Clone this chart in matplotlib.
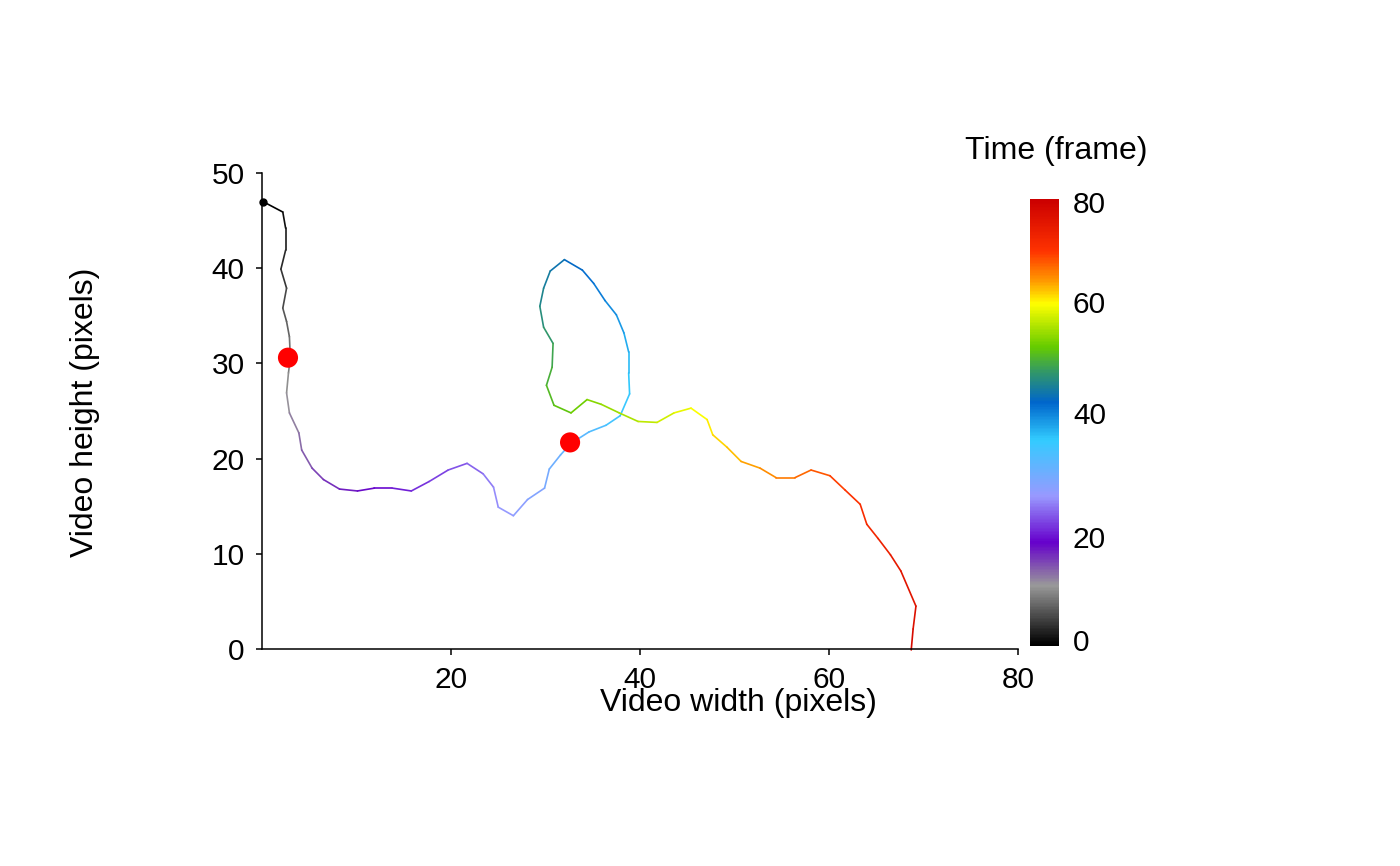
import matplotlib
matplotlib.use("Agg")
import matplotlib.pyplot as plt
import numpy as np
from matplotlib.collections import LineCollection
from matplotlib.colors import LinearSegmentedColormap

plt.rcParams['font.family'] = ['Liberation Sans', 'DejaVu Sans']

# trajectory (pixels), one point per frame
x = [0.1, 2.2, 2.5, 2.5, 2.0, 2.6, 2.2, 2.6, 2.9, 3.0,
     2.8, 2.6, 2.9, 3.9, 4.2, 5.3, 6.5, 8.2, 10.1, 11.9,
     13.8, 15.8, 17.7, 19.7, 21.7, 23.4, 24.5, 25.0, 26.6, 28.1,
     29.9, 30.4, 31.6, 32.7, 34.6, 36.4, 37.9, 38.9, 38.8, 38.8,
     38.3, 37.5, 36.3, 35.1, 33.9, 32.0, 30.5, 29.8, 29.4, 29.8,
     30.8, 30.7, 30.1, 30.9, 32.7, 34.4, 35.9, 37.8, 39.8, 41.8,
     43.6, 45.4, 47.1, 47.7, 49.2, 50.7, 52.7, 54.4, 56.4, 58.1,
     60.1, 61.7, 63.3, 64.0, 65.2, 66.5, 67.6, 69.2, 68.9, 68.7]
y = [47.0, 45.9, 44.2, 41.9, 39.9, 37.9, 35.8, 34.4, 32.8, 30.6,
     29.0, 26.9, 24.8, 22.7, 20.9, 19.0, 17.8, 16.8, 16.6, 16.9,
     16.9, 16.6, 17.6, 18.8, 19.5, 18.4, 17.0, 14.9, 14.0, 15.7,
     16.9, 18.9, 20.4, 21.6, 22.8, 23.5, 24.5, 26.8, 29.0, 31.2,
     33.2, 35.1, 36.6, 38.4, 39.8, 40.9, 39.7, 37.9, 36.0, 33.8,
     32.1, 29.6, 27.7, 25.6, 24.8, 26.2, 25.7, 24.8, 23.9, 23.8,
     24.8, 25.3, 24.1, 22.5, 21.2, 19.7, 19.0, 18.0, 18.0, 18.8,
     18.2, 16.7, 15.2, 13.1, 11.6, 9.9, 8.2, 4.5, 2.1, -0.1]
frame = np.arange(len(x))

# highlighted points
pts_x = [2.75, 32.6]
pts_y = [30.6, 21.7]

# colour scale nodes and legend breaks
node_pos = [0.0, 0.133, 0.23, 0.334, 0.46, 0.545, 0.615, 0.67, 0.767, 0.819, 0.886, 1.0]
node_col = ['#000000', '#999999', '#6600cc', '#9999ff', '#33ccff', '#0066cc',
            '#339966', '#66cc00', '#ffff00', '#ff9900', '#ff3300', '#cc0000']
cb_breaks = [0, 20, 40, 60, 80]
cb_break_pos = [0.013, 0.244, 0.522, 0.770, 0.993]

cmap = LinearSegmentedColormap.from_list('traj', list(zip(node_pos, node_col)))

W, H = 1400, 866
fig = plt.figure(figsize=(14, 8.66), dpi=100)
ax = fig.add_axes([262 / W, 1 - 649 / H, (1018 - 262) / W, (649 - 173) / H])

pts = np.column_stack([x, y])
segs = np.stack([pts[:-1], pts[1:]], axis=1)
lc = LineCollection(segs, colors=cmap(frame[:-1] / 80), linewidths=1.2,
                    capstyle='round', joinstyle='round')
lc.set_clip_on(False)
ax.add_collection(lc)

ax.plot(x[0], y[0], 'o', color='black', markersize=5, clip_on=False, zorder=4)
ax.scatter(pts_x, pts_y, s=210, color='#ff0000', edgecolors='none', zorder=5)

ax.set_xlim(0, 80)
ax.set_ylim(0, 50)
ax.set_xticks([20, 40, 60, 80])
ax.set_yticks([0, 10, 20, 30, 40, 50])
for s in ['top', 'right']:
    ax.spines[s].set_visible(False)
for s in ['left', 'bottom']:
    ax.spines[s].set_linewidth(1.1)
ax.tick_params(labelsize=21.5, length=4.5, width=1.1, pad=8, color='black')

fig.text(738 / W, 1 - 703 / H, 'Video width (pixels)', fontsize=23,
         ha='center', va='center')
fig.text(85 / W, 1 - 412 / H, 'Video height (pixels)', fontsize=23,
         ha='center', va='center', rotation=90)

# colour bar
cax = fig.add_axes([1030 / W, 1 - 646 / H, 29 / W, 447 / H])
grad = np.linspace(0, 1, 400).reshape(-1, 1)
cax.imshow(grad, cmap=cmap, aspect='auto', origin='lower', extent=[0, 1, 0, 1])
cax.set_xlim(0, 1)
cax.set_ylim(0, 1)
cax.set_xticks([])
cax.set_yticks(cb_break_pos)
cax.set_yticklabels([str(b) for b in cb_breaks])
cax.yaxis.tick_right()
cax.tick_params(length=0, labelsize=21.5, pad=10)
for s in cax.spines.values():
    s.set_visible(False)
fig.text(1056 / W, 1 - 151 / H, 'Time (frame)', fontsize=23, ha='center', va='center')

fig.savefig('out.png', dpi=100)
